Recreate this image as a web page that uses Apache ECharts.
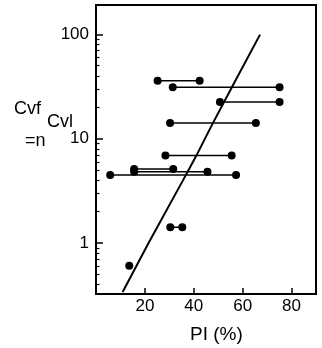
<!DOCTYPE html>
<html>
<head>
<meta charset="utf-8">
<script src="https://cdn.jsdelivr.net/npm/echarts@6/dist/echarts.min.js"></script>
<style>html,body{margin:0;padding:0;background:#fff;}#c{width:322px;height:348px;}</style>
</head>
<body>
<div id="c"></div>
<script>
// ---- data ----
const SEG_Y       = [35.9, 31.1, 22.5, 14.1, 6.9, 5.12, 4.82, 4.48, 1.42];
const SEG_X_START = [25.2, 31.4, 50.7, 30.3, 28.4, 15.6, 15.6, 5.8, 30.4];
const SEG_X_END   = [42.4, 75.1, 75.1, 65.4, 55.5, 31.6, 45.6, 57.3, 35.3];
const SINGLE_X = [13.6];
const SINGLE_Y = [0.605];
const FIT_X = [10.9, 21.5, 35.4, 40.8, 47.6, 55.8, 67.1];
const FIT_Y = [0.34, 1.0, 3.92, 6.7, 13.8, 31.8, 99.3];
const X_MIN = 0, X_MAX = 90, X_INTERVAL = 20;
const Y_MIN = 0.325, Y_MAX = 191;
const Y_MINOR_TICKS = [0.4,0.5,0.6,0.7,0.8,0.9,2,3,4,5,6,7,8,9,20,30,40,50,60,70,80,90];
const X_TITLE = 'PI (%)';
const Y_TITLE_PARTS = ['Cvf', 'Cvl', '=n'];

const FONT = 'Liberation Sans, Arial, sans-serif';
const chart = echarts.init(document.getElementById('c'), null, {renderer: 'canvas'});

const series = [];
for (let i = 0; i < SEG_Y.length; i++) {
  series.push({
    type: 'line', xAxisIndex: 0, yAxisIndex: 0,
    data: [[SEG_X_START[i], SEG_Y[i]], [SEG_X_END[i], SEG_Y[i]]],
    symbol: 'circle', symbolSize: 8, showSymbol: true,
    lineStyle: {color: '#000', width: 1.5},
    itemStyle: {color: '#000', opacity: 1},
    silent: true, animation: false
  });
}
series.push({
  type: 'scatter', xAxisIndex: 0, yAxisIndex: 0,
  data: SINGLE_X.map((x, i) => [x, SINGLE_Y[i]]),
  symbol: 'circle', symbolSize: 8,
  itemStyle: {color: '#000', opacity: 1}, animation: false
});
series.push({
  type: 'line', xAxisIndex: 0, yAxisIndex: 0,
  data: FIT_X.map((x, i) => [x, FIT_Y[i]]),
  showSymbol: false, symbol: 'none',
  lineStyle: {color: '#000', width: 2},
  animation: false
});

chart.setOption({
  backgroundColor: '#fff',
  animation: false,
  grid: {left: 96, top: 5, right: 6, bottom: 54, show: true, borderColor: '#000', borderWidth: 2, backgroundColor: 'transparent'},
  xAxis: {
    type: 'value', min: X_MIN, max: X_MAX, interval: X_INTERVAL,
    axisLine: {show: true, onZero: false, lineStyle: {color: '#000', width: 2}},
    axisTick: {show: true, inside: true, length: 6, lineStyle: {color: '#000', width: 1.5}},
    axisLabel: {show: true, fontSize: 17, fontFamily: FONT, color: '#000', margin: 4, showMinLabel: false, showMaxLabel: false},
    splitLine: {show: false}
  },
  yAxis: [
    {
      type: 'log', logBase: 10, min: Y_MIN, max: Y_MAX, position: 'left',
      axisLine: {show: true, onZero: false, lineStyle: {color: '#000', width: 2}},
      axisTick: {show: true, inside: true, length: 7, lineStyle: {color: '#000', width: 1.5}},
      axisLabel: {show: true, fontSize: 17, fontFamily: FONT, color: '#000', margin: 7, showMinLabel: false, showMaxLabel: false,
                  formatter: v => String(v)},
      splitLine: {show: false}, minorTick: {show: false}
    },
    {
      type: 'value', min: Math.log10(Y_MIN), max: Math.log10(Y_MAX), position: 'left', offset: 0,
      axisLine: {show: true, onZero: false, lineStyle: {color: '#000', width: 2}},
      axisTick: {show: true, inside: true, length: 3.5, lineStyle: {color: '#000', width: 1.2},
                 customValues: Y_MINOR_TICKS.map(v => Math.log10(v))},
      axisLabel: {show: false},
      splitLine: {show: false}
    }
  ],
  graphic: [
    {type: 'text', left: 14, top: 100, style: {text: Y_TITLE_PARTS[0], font: '18px ' + FONT, fill: '#000'}},
    {type: 'text', left: 47, top: 113, style: {text: Y_TITLE_PARTS[1], font: '18px ' + FONT, fill: '#000'}},
    {type: 'text', left: 25, top: 132, style: {text: Y_TITLE_PARTS[2], font: '18px ' + FONT, fill: '#000'}},
    {type: 'text', left: 190, top: 325, style: {text: X_TITLE, font: '19px ' + FONT, fill: '#000'}}
  ],
  series: series
});
</script>
</body>
</html>
